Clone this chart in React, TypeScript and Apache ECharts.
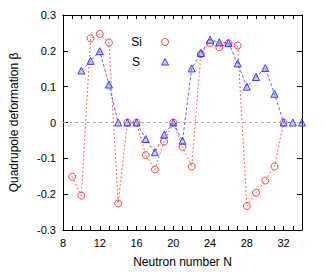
import React, { useEffect, useRef } from "react";
import * as echarts from "echarts";

const siN = [9, 10, 11, 12, 13, 14, 15, 16, 17, 18, 19, 20, 21, 22, 23, 24, 25, 26, 27, 28, 29, 30, 31, 32];
const siBeta = [-0.151, -0.204, 0.235, 0.247, 0.223, -0.226, 0, 0, -0.091, -0.131, -0.053, 0, -0.068, -0.123, 0.191, 0.222, 0.21, 0.221, 0.215, -0.233, -0.196, -0.162, -0.123, 0];
const sN = [10, 11, 12, 13, 14, 15, 16, 17, 18, 19, 20, 21, 22, 23, 24, 25, 26, 27, 28, 29, 30, 31, 32, 33, 34];
const sBeta = [0.145, 0.172, 0.199, 0.106, 0, 0, 0, -0.046, -0.083, -0.034, 0, -0.051, 0.151, 0.194, 0.231, 0.224, 0.222, 0.165, 0.1, 0.127, 0.152, 0.08, 0, 0, 0];

const RED = "#ff3b3b";
const BLUE = "#3b3bff";
const FONT = "Liberation Sans, Arial, sans-serif";

export default function App() {
  const ref = useRef<HTMLDivElement>(null);
  useEffect(() => {
    const chart = echarts.init(ref.current!, null, { renderer: "svg" });
    const axisLine = { show: true, onZero: false, lineStyle: { color: "#000", width: 1 } };
    chart.setOption({
      animation: false,
      backgroundColor: "#fff",
      grid: { left: 61, right: 23, top: 15, bottom: 41 },
      xAxis: [
        {
          type: "value", min: 8, max: 34, interval: 1, position: "bottom",
          name: "Neutron number N", nameLocation: "middle", nameGap: 32,
          nameTextStyle: { fontFamily: FONT, fontSize: 12, color: "#000", verticalAlign: "middle" },
          axisLine, splitLine: { show: false },
          axisTick: { inside: true, length: 4, lineStyle: { color: "#000" } },
          axisLabel: {
            fontFamily: FONT, fontSize: 11, color: "#000", margin: 7, showMinLabel: true, showMaxLabel: false,
            formatter: (v: number) => (v % 4 === 0 && v < 34 ? String(v) : ""),
          },
        },
        {
          type: "value", min: 8, max: 34, interval: 1, position: "top",
          axisLine, splitLine: { show: false },
          axisTick: { inside: true, length: 4, lineStyle: { color: "#000" } },
          axisLabel: { show: false },
        },
      ],
      yAxis: [
        {
          type: "value", min: -0.3, max: 0.3, interval: 0.1, position: "left",
          name: "Quadrupole deformation β", nameLocation: "middle", nameGap: 43,
          nameTextStyle: { fontFamily: FONT, fontSize: 12, color: "#000" },
          axisLine, splitLine: { show: false },
          axisTick: { inside: true, length: 5, lineStyle: { color: "#000" } },
          axisLabel: {
            fontFamily: FONT, fontSize: 11, color: "#000", margin: 7,
            formatter: (v: number) => (Math.abs(v) < 1e-9 ? "0" : v.toFixed(1)),
          },
        },
        {
          type: "value", min: -0.3, max: 0.3, interval: 0.1, position: "right",
          axisLine, splitLine: { show: false },
          axisTick: { inside: true, length: 5, lineStyle: { color: "#000" } },
          axisLabel: { show: false },
        },
      ],
      series: [
        {
          type: "line", name: "Si", xAxisIndex: 0, yAxisIndex: 0,
          data: siN.map((n, i) => [n, siBeta[i]]),
          symbol: "circle", symbolSize: 7, z: 3,
          itemStyle: { color: "rgba(255,255,255,0)", borderColor: RED, borderWidth: 1 },
          lineStyle: { color: RED, width: 1, type: [2, 2], opacity: 0.8 },
          markLine: {
            silent: true, symbol: "none", label: { show: false },
            lineStyle: { color: "#aaa", type: [3, 3], width: 1 },
            data: [{ yAxis: 0 }],
          },
        },
        {
          type: "line", name: "S", xAxisIndex: 0, yAxisIndex: 0,
          data: sN.map((n, i) => [n, sBeta[i]]),
          symbol: "triangle", symbolSize: 7, z: 4,
          itemStyle: { color: "rgba(120,120,255,0.35)", borderColor: BLUE, borderWidth: 1 },
          lineStyle: { color: BLUE, width: 1, type: [3, 2], opacity: 0.8 },
        },
      ],
      graphic: [
        { type: "text", x: 142, y: 42, style: { text: "Si", fontFamily: FONT, fontSize: 12, fill: "#000", align: "right", verticalAlign: "middle" } },
        { type: "circle", shape: { cx: 165, cy: 42, r: 3.5 }, style: { fill: "none", stroke: RED, lineWidth: 1 } },
        { type: "text", x: 140, y: 62, style: { text: "S", fontFamily: FONT, fontSize: 12, fill: "#000", align: "right", verticalAlign: "middle" } },
        { type: "polygon", shape: { points: [[165, 58.5], [168.5, 65], [161.5, 65]] }, style: { fill: "rgba(120,120,255,0.35)", stroke: BLUE, lineWidth: 1 } },
      ],
    });
    return () => chart.dispose();
  }, []);
  return <div ref={ref} style={{ position: "absolute", left: 0, top: 0, width: 325, height: 273 }} />;
}
